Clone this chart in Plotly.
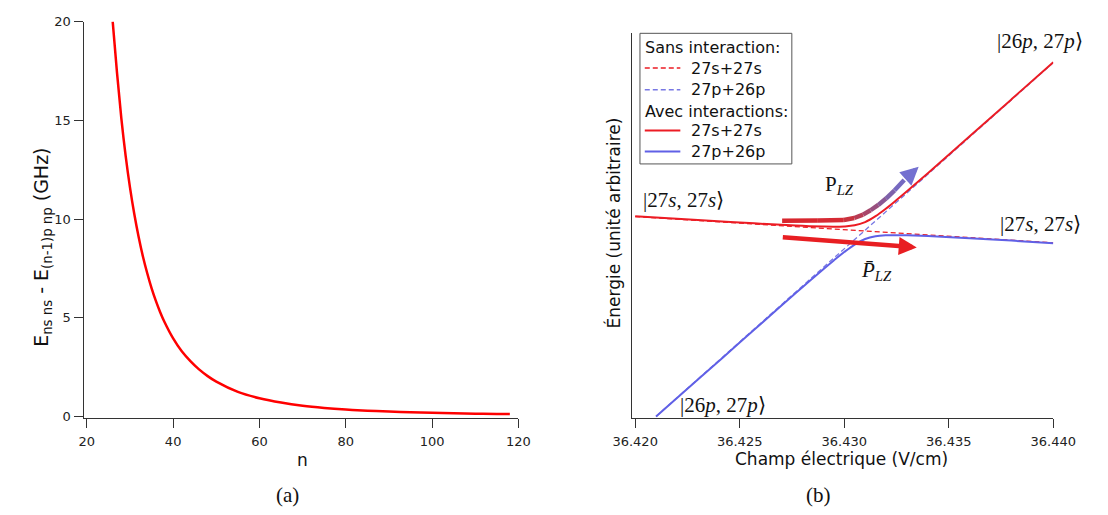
import plotly.graph_objects as go

W, H = 1108, 515

# ---------------- (a) data ----------------
n_values = [26, 27, 28, 29, 30, 31, 32, 33, 34, 35, 36, 37, 38, 40, 42, 44, 46, 48, 50,
            55, 60, 65, 70, 75, 80, 85, 90, 95, 100, 105, 110, 115, 118]
delta_E_GHz = [20.0, 17.4, 15.1, 13.2, 11.6, 10.25, 9.1, 8.1, 7.25, 6.5, 5.85, 5.28, 4.78,
               3.95, 3.3, 2.8, 2.38, 2.04, 1.76, 1.24, 0.92, 0.70, 0.54, 0.43, 0.35, 0.29,
               0.245, 0.21, 0.18, 0.155, 0.138, 0.124, 0.117]
a_xticks = [20, 40, 60, 80, 100, 120]
a_yticks = [0, 5, 10, 15, 20]

# ---------------- (b) data ----------------
field_ss_diab = [36.420, 36.440]
energy_ss_diab = [52.4, 45.6]
field_pp_diab = [36.421, 36.440]
energy_pp_diab = [0.5, 92.4]

field_upper = [36.420, 36.423, 36.425, 36.427, 36.428, 36.429, 36.4295, 36.430, 36.4305,
               36.431, 36.4315, 36.432, 36.4325, 36.433, 36.434, 36.436, 36.438, 36.440]
energy_upper = [52.5, 51.5, 50.86, 50.25, 49.99, 49.80, 49.76, 49.84, 50.14,
                50.97, 52.50, 54.49, 56.70, 58.98, 63.68, 73.24, 82.86, 92.5]
field_lower = [36.421, 36.423, 36.425, 36.427, 36.428, 36.429, 36.4295, 36.430, 36.4305,
               36.431, 36.4315, 36.432, 36.4325, 36.433, 36.434, 36.436, 36.438, 36.440]
energy_lower = [0.5, 10.06, 19.68, 29.29, 34.05, 38.74, 41.02, 43.2, 45.14,
                46.57, 47.28, 47.53, 47.58, 47.54, 47.34, 46.77, 46.16, 45.5]
b_xticks = [36.420, 36.425, 36.430, 36.435, 36.440]

legend_header_sans = 'Sans interaction:'
legend_header_avec = 'Avec interactions:'
legend_names = ['27s+27s', '27p+26p']

# arrow paths (decorations)
plz_path_x = [36.42703, 36.42874, 36.42998, 36.43048, 36.43090, 36.43126, 36.43163,
              36.43200, 36.43241, 36.43287]
plz_path_y = [51.32, 51.39, 51.52, 52.03, 52.91, 54.05, 55.44, 57.09, 59.24, 61.90]
plz_tip = (36.43356, 65.32)
plz_colors = ['#d8262e', '#d62a34', '#c9333f', '#b83c55', '#a8466a', '#98507f',
              '#8a5894', '#7e62aa', '#7669c0']
plzbar_tail = (36.42699, 47.09)
plzbar_tip = (36.43347, 44.38)

RED = '#ec1c24'
BLUE = '#6060e6'
BLUE_D = '#7878e4'
SANS = 'DejaVu Sans'
SERIF = 'Liberation Serif'
DASH = '5px,3px'

fig = go.Figure()

# (a) curve
fig.add_trace(go.Scatter(x=n_values, y=delta_E_GHz, mode='lines',
                         line=dict(color='#ff0000', width=2.5, shape='spline'),
                         xaxis='x', yaxis='y', showlegend=False, hoverinfo='skip'))

# (b) diabatic (dashed)
fig.add_trace(go.Scatter(x=field_ss_diab, y=energy_ss_diab, mode='lines', name=legend_names[0],
                         line=dict(color=RED, width=1.3, dash=DASH),
                         xaxis='x2', yaxis='y2', showlegend=False))
fig.add_trace(go.Scatter(x=field_pp_diab, y=energy_pp_diab, mode='lines', name=legend_names[1],
                         line=dict(color=BLUE_D, width=1.3, dash=DASH),
                         xaxis='x2', yaxis='y2', showlegend=False))
# (b) adiabatic (solid)
fig.add_trace(go.Scatter(x=field_upper, y=energy_upper, mode='lines', name=legend_names[0],
                         line=dict(color=RED, width=2, shape='spline'),
                         xaxis='x2', yaxis='y2', showlegend=False))
fig.add_trace(go.Scatter(x=field_lower, y=energy_lower, mode='lines', name=legend_names[1],
                         line=dict(color=BLUE, width=2, shape='spline'),
                         xaxis='x2', yaxis='y2', showlegend=False))

# gradient arrow P_LZ
for i in range(len(plz_path_x) - 1):
    fig.add_trace(go.Scatter(x=plz_path_x[i:i + 2], y=plz_path_y[i:i + 2], mode='lines',
                             line=dict(color=plz_colors[i], width=4.5),
                             xaxis='x2', yaxis='y2', showlegend=False, hoverinfo='skip'))

ax_common = dict(showline=True, linecolor='#333333', linewidth=1, ticks='outside', ticklen=9,
                 tickcolor='#333333', tickwidth=1, showgrid=False, zeroline=False,
                 tickfont=dict(family=SANS, size=13, color='#222222'))


def fx(px):
    return px / W


def fy(py):
    return 1 - py / H


fig.update_layout(
    width=W, height=H, margin=dict(l=0, r=0, t=0, b=0),
    paper_bgcolor='white', plot_bgcolor='white', showlegend=False,
    xaxis=dict(domain=[fx(67), fx(518.6)], range=[19.443, 120], tickvals=a_xticks,
               anchor='y', ticklabelstandoff=2, **ax_common),
    yaxis=dict(domain=[fy(422), fy(15)], range=[-0.0988, 20], tickvals=a_yticks,
               anchor='x', ticklabelstandoff=1, **ax_common),
    xaxis2=dict(domain=[fx(637), fx(1075)], range=[36.419862, 36.440], tickvals=b_xticks,
                tickformat='.3f', anchor='y2', ticklabelstandoff=2, **ax_common),
    yaxis2=dict(domain=[fy(422), fy(27)], range=[0, 100], anchor='x2',
                showline=True, linecolor='#333333', linewidth=1, ticks='', showticklabels=False,
                showgrid=False, zeroline=False),
)

# manual legend box (paper coordinates)
shapes = [dict(type='rect', xref='paper', yref='paper', x0=fx(645), x1=fx(803), y0=fy(161), y1=fy(27),
               line=dict(color='#555555', width=1), fillcolor='white', layer='above')]
leg_rows = [41.7, 62.7, 85.0, 106.7, 126.7, 148.3]
leg_samples = [(leg_rows[1], RED, DASH), (leg_rows[2], BLUE_D, DASH),
               (leg_rows[4], RED, 'solid'), (leg_rows[5], BLUE, 'solid')]
for yy, col, dsh in leg_samples:
    shapes.append(dict(type='line', xref='paper', yref='paper', x0=fx(650), x1=fx(687),
                       y0=fy(yy), y1=fy(yy), line=dict(color=col, width=1.5 if dsh != 'solid' else 2, dash=dsh),
                       layer='above'))

leg_font = dict(family=SANS, size=16, color='#111111')
ann = []
ann.append(dict(text=legend_header_sans, xref='paper', yref='paper', x=fx(648), y=fy(leg_rows[0]),
                xanchor='left', yanchor='middle', showarrow=False, font=leg_font))
ann.append(dict(text=legend_header_avec, xref='paper', yref='paper', x=fx(648), y=fy(leg_rows[3]),
                xanchor='left', yanchor='middle', showarrow=False, font=leg_font))
for yy, nm in zip([leg_rows[1], leg_rows[2], leg_rows[4], leg_rows[5]], legend_names * 2):
    ann.append(dict(text=nm, xref='paper', yref='paper', x=fx(696), y=fy(yy),
                    xanchor='left', yanchor='middle', showarrow=False, font=leg_font))

# axis titles
ann.append(dict(text='E<sub>ns ns</sub> - E<sub>(n-1)p np</sub> (GHz)', xref='paper', yref='paper',
                x=fx(24), y=fy(247), textangle=-90, showarrow=False, xanchor='center', yanchor='middle',
                font=dict(family=SANS, size=19, color='#111111')))
ann.append(dict(text='n', xref='paper', yref='paper', x=fx(294), y=fy(465), showarrow=False,
                xanchor='center', yanchor='middle', font=dict(family=SANS, size=17, color='#111111')))
ann.append(dict(text='Énergie (unité arbitraire)', xref='paper', yref='paper',
                x=fx(617), y=fy(222), textangle=-90, showarrow=False, xanchor='center', yanchor='middle',
                font=dict(family=SANS, size=17, color='#111111')))
ann.append(dict(text='Champ électrique (V/cm)', xref='paper', yref='paper', x=fx(855), y=fy(464),
                showarrow=False, xanchor='center', yanchor='middle',
                font=dict(family=SANS, size=17, color='#111111')))
# captions
ann.append(dict(text='(a)', xref='paper', yref='paper', x=fx(278), y=fy(501), showarrow=False,
                xanchor='center', yanchor='middle', font=dict(family=SERIF, size=21, color='#111111')))
ann.append(dict(text='(b)', xref='paper', yref='paper', x=fx(831), y=fy(501), showarrow=False,
                xanchor='center', yanchor='middle', font=dict(family=SERIF, size=21, color='#111111')))
# state labels
lab_font = dict(family=SERIF, size=21, color='#111111')
state_labels = [('|27<i>s</i>, 27<i>s</i>⟩', 36.4223, 56.7),
                ('|27<i>s</i>, 27<i>s</i>⟩', 36.4394, 50.6),
                ('|26<i>p</i>, 27<i>p</i>⟩', 36.43936, 98.0),
                ('|26<i>p</i>, 27<i>p</i>⟩', 36.42418, 3.54),
                ('P<sub><i>LZ</i></sub>', 36.42979, 60.5),
                ('<i>P\u0304</i><sub><i>LZ</i></sub>', 36.43154, 38.2)]
for txt, xx, yy in state_labels:
    ann.append(dict(text=txt, xref='x2', yref='y2', x=xx, y=yy, showarrow=False,
                    xanchor='center', yanchor='middle', font=lab_font))
# arrow heads
ann.append(dict(text='', xref='x2', yref='y2', axref='x2', ayref='y2',
                x=plz_tip[0], y=plz_tip[1], ax=plz_path_x[-1], ay=plz_path_y[-1],
                showarrow=True, arrowhead=2, arrowsize=0.8, arrowwidth=4.5, arrowcolor='#7470d0',
                standoff=0, startstandoff=0))
ann.append(dict(text='', xref='x2', yref='y2', axref='x2', ayref='y2',
                x=plzbar_tip[0], y=plzbar_tip[1], ax=plzbar_tail[0], ay=plzbar_tail[1],
                showarrow=True, arrowhead=2, arrowsize=0.8, arrowwidth=4.5, arrowcolor='#e81e22',
                standoff=0, startstandoff=0))
fig.update_layout(annotations=ann, shapes=shapes)

fig.write_html("out.html", config={'displayModeBar': False},
               post_script="document.body.style.margin='0';document.body.style.overflow='hidden';")
